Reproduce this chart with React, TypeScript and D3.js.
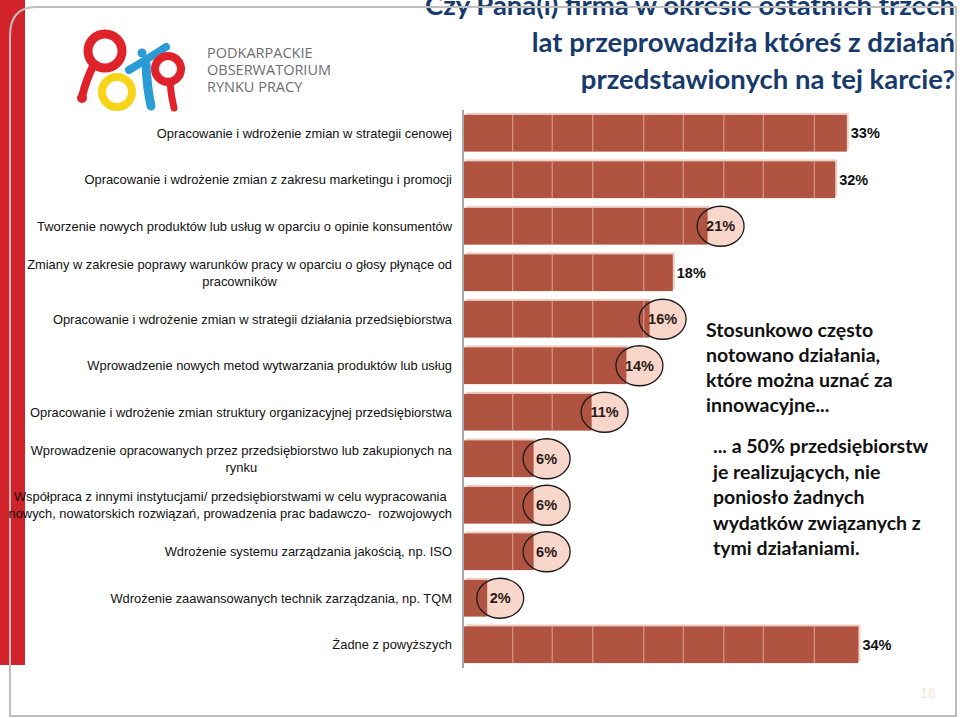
import { useEffect, useRef } from 'react';
import * as d3 from 'd3';

const categories = [
  ['Opracowanie i wdrożenie zmian w strategii cenowej'],
  ['Opracowanie i wdrożenie zmian z zakresu marketingu i promocji'],
  ['Tworzenie nowych produktów lub usług w oparciu o opinie konsumentów'],
  ['Zmiany w zakresie poprawy warunków pracy w oparciu o głosy płynące od', 'pracowników'],
  ['Opracowanie i wdrożenie zmian w strategii działania przedsiębiorstwa'],
  ['Wprowadzenie nowych metod wytwarzania produktów lub usług'],
  ['Opracowanie i wdrożenie zmian struktury organizacyjnej przedsiębiorstwa'],
  ['Wprowadzenie opracowanych przez przedsiębiorstwo lub zakupionych na', 'rynku'],
  ['Współpraca z innymi instytucjami/ przedsiębiorstwami w celu wypracowania', 'nowych, nowatorskich rozwiązań, prowadzenia prac badawczo-  rozwojowych'],
  ['Wdrożenie systemu zarządzania jakością, np. ISO'],
  ['Wdrożenie zaawansowanych technik zarządzania, np. TQM'],
  ['Żadne z powyższych'],
];
const values = [33, 32, 21, 18, 16, 14, 11, 6, 6, 6, 2, 34];
const circled = [false, false, true, false, true, true, true, true, true, true, true, false];
const gridValues = [4.2, 7.6, 11.1, 15.5, 18.9, 22.4, 25.8, 30.2];

const titleLines = [
  'Czy Pana(i) firma w okresie ostatnich trzech',
  'lat przeprowadziła któreś z działań',
  'przedstawionych na tej karcie?',
];
const noteTop = ['Stosunkowo często', 'notowano działania,', 'które można uznać za', 'innowacyjne...'];
const noteBottom = ['... a 50% przedsiębiorstw', 'je realizujących, nie', 'poniosło żadnych', 'wydatków związanych z', 'tymi działaniami.'];
const logoLines = ['PODKARPACKIE', 'OBSERWATORIUM', 'RYNKU PRACY'];
const pageNumber = '18';

const BAR = '#B05441';
const PALE = '#F9D6CA';

export default function App() {
  const svgRef = useRef<SVGSVGElement>(null);

  useEffect(() => {
    const svg = d3.select(svgRef.current);
    svg.selectAll('*').remove();

    const W = 960;
    const H = 718;

    svg.append('rect').attr('width', W).attr('height', H).attr('fill', '#fff');

    // red band on the left
    svg.append('rect').attr('x', 0).attr('y', 0).attr('width', 25).attr('height', 665).attr('fill', '#D2222A');

    // logo
    const logo = svg.append('g');
    logo.append('circle').attr('cx', 117).attr('cy', 92).attr('r', 15)
      .attr('fill', 'none').attr('stroke', '#F7D417').attr('stroke-width', 8);
    logo.append('circle').attr('cx', 105).attr('cy', 51).attr('r', 17)
      .attr('fill', 'none').attr('stroke', '#E0232B').attr('stroke-width', 9);
    logo.append('path').attr('d', 'M94,64 Q86,80 82,97')
      .attr('fill', 'none').attr('stroke', '#E0232B').attr('stroke-width', 8).attr('stroke-linecap', 'round');
    logo.append('circle').attr('cx', 82).attr('cy', 98).attr('r', 5).attr('fill', '#E0232B');
    logo.append('circle').attr('cx', 142).attr('cy', 53).attr('r', 4.5).attr('fill', '#2A9BD5');
    logo.append('path').attr('d', 'M129,70 Q146,60 166,47')
      .attr('fill', 'none').attr('stroke', '#2A9BD5').attr('stroke-width', 8).attr('stroke-linecap', 'round');
    logo.append('path').attr('d', 'M146,64 Q147,88 151,106')
      .attr('fill', 'none').attr('stroke', '#2A9BD5').attr('stroke-width', 9).attr('stroke-linecap', 'round');
    logo.append('circle').attr('cx', 168).attr('cy', 69).attr('r', 13)
      .attr('fill', 'none').attr('stroke', '#E0232B').attr('stroke-width', 8);
    logo.append('path').attr('d', 'M170,82 Q171,96 174,108')
      .attr('fill', 'none').attr('stroke', '#E0232B').attr('stroke-width', 7).attr('stroke-linecap', 'round');

    logo.selectAll('text.logo')
      .data(logoLines)
      .join('text')
      .attr('class', 'logo')
      .attr('x', 207)
      .attr('y', (d, i) => 58 + i * 17)
      .attr('font-family', '"Open Sans", sans-serif')
      .attr('font-size', '14.5px')
      .attr('fill', '#6D6E71')
      .text(d => d);

    // title
    svg.selectAll('text.title')
      .data(titleLines)
      .join('text')
      .attr('class', 'title')
      .attr('x', 955)
      .attr('y', (d, i) => 15 + i * 37)
      .attr('text-anchor', 'end')
      .attr('font-family', 'Lato, sans-serif')
      .attr('font-weight', 'bold')
      .attr('font-size', '27.5px')
      .attr('fill', '#173A6C')
      .text(d => d);

    // slide frame
    svg.append('path')
      .attr('d', 'M10,716 L10,36 Q10,7 36,7 L956,7 L956,716 Z')
      .attr('fill', 'none')
      .attr('stroke', '#BDBDBD')
      .attr('stroke-width', 2);

    // chart
    const idx = values.map((d, i) => i);
    const x = d3.scaleLinear().domain([0, 34]).range([464, 464 + 34 * 11.6]);
    const y = d3.scaleBand<number>().domain(idx).range([110, 668]).paddingInner(0.21).paddingOuter(0.105);
    const bw = y.bandwidth();

    const g = svg.append('g');

    // pale shadow behind bars
    g.selectAll('rect.shadow')
      .data(idx)
      .join('rect')
      .attr('class', 'shadow')
      .attr('x', x(0) + 2)
      .attr('y', i => (y(i) as number) - 2)
      .attr('width', i => x(values[i]) - x(0))
      .attr('height', bw)
      .attr('fill', '#EDCFC6');

    // ellipse fills under the bars
    const circ = idx.filter(i => circled[i]);
    g.selectAll('ellipse.fill')
      .data(circ)
      .join('ellipse')
      .attr('class', 'fill')
      .attr('cx', i => x(values[i]) + 13)
      .attr('cy', i => (y(i) as number) + bw / 2)
      .attr('rx', 23.5)
      .attr('ry', 20)
      .attr('fill', PALE);

    g.selectAll('rect.bar')
      .data(idx)
      .join('rect')
      .attr('class', 'bar')
      .attr('x', x(0))
      .attr('y', i => y(i) as number)
      .attr('width', i => x(values[i]) - x(0))
      .attr('height', bw)
      .attr('fill', BAR);

    // light grid lines inside the bars
    idx.forEach(i => {
      g.selectAll(null)
        .data(gridValues.filter(v => v < values[i]))
        .join('line')
        .attr('x1', v => x(v))
        .attr('x2', v => x(v))
        .attr('y1', y(i) as number)
        .attr('y2', (y(i) as number) + bw)
        .attr('stroke', '#DDA596')
        .attr('stroke-width', 1);
    });

    // axis line
    g.append('line')
      .attr('x1', 463).attr('x2', 463)
      .attr('y1', 110).attr('y2', 668)
      .attr('stroke', '#A6A6A6')
      .attr('stroke-width', 2);

    g.selectAll('ellipse.ring')
      .data(circ)
      .join('ellipse')
      .attr('class', 'ring')
      .attr('cx', i => x(values[i]) + 13)
      .attr('cy', i => (y(i) as number) + bw / 2)
      .attr('rx', 23.5)
      .attr('ry', 20)
      .attr('fill', 'none')
      .attr('stroke', '#1a1a1a')
      .attr('stroke-width', 1.3);

    // value labels
    g.selectAll('text.val')
      .data(idx)
      .join('text')
      .attr('class', 'val')
      .attr('x', i => (circled[i] ? x(values[i]) + 13 : x(values[i]) + 4))
      .attr('y', i => (y(i) as number) + bw / 2)
      .attr('dy', '0.36em')
      .attr('text-anchor', i => (circled[i] ? 'middle' : 'start'))
      .attr('font-family', '"Liberation Sans", Arial, sans-serif')
      .attr('font-weight', 'bold')
      .attr('font-size', '14.5px')
      .attr('fill', i => (circled[i] ? '#2b1a16' : '#111'))
      .text(i => `${values[i]}%`);

    // category labels
    const labelRight = 452;
    idx.forEach(i => {
      const lines = categories[i];
      const cy = (y(i) as number) + bw / 2;
      const t = g.append('text')
        .attr('xml:space', 'preserve')
        .style('white-space', 'pre')
        .attr('font-family', '"Liberation Sans", Arial, sans-serif')
        .attr('font-size', '12.9px')
        .attr('fill', '#111');
      if (lines.length === 1) {
        t.attr('x', labelRight).attr('y', cy).attr('dy', '0.35em').attr('text-anchor', 'end').text(lines[0]);
      } else {
        const spans = lines.map((l, k) => t.append('tspan')
          .attr('y', cy + (k - (lines.length - 1) / 2) * 17)
          .attr('dy', '0.35em')
          .text(l));
        const widest = d3.max(spans, s => (s.node() as SVGTSpanElement).getComputedTextLength()) || 0;
        t.attr('text-anchor', 'middle');
        spans.forEach(s => s.attr('x', labelRight - widest / 2));
      }
    });

    // side notes
    svg.selectAll('text.noteTop')
      .data(noteTop)
      .join('text')
      .attr('class', 'noteTop')
      .attr('x', 706)
      .attr('y', (d, i) => 337 + i * 25)
      .attr('font-family', 'Lato, sans-serif')
      .attr('font-weight', 'bold')
      .attr('font-size', '19.5px')
      .attr('fill', '#111')
      .text(d => d);

    svg.selectAll('text.noteBottom')
      .data(noteBottom)
      .join('text')
      .attr('class', 'noteBottom')
      .attr('x', 713)
      .attr('y', (d, i) => 453 + i * 25.5)
      .attr('font-family', 'Lato, sans-serif')
      .attr('font-weight', 'bold')
      .attr('font-size', '19.5px')
      .attr('fill', '#111')
      .text(d => d);

    svg.append('text')
      .attr('x', 928)
      .attr('y', 698)
      .attr('text-anchor', 'middle')
      .attr('font-family', 'Lato, sans-serif')
      .attr('font-size', '13px')
      .attr('fill', '#F1E6D2')
      .text(pageNumber);
  }, []);

  return (
    <svg
      ref={svgRef}
      width="960"
      height="718"
      style={{ position: 'absolute', left: 0, top: 0, display: 'block' }}
    ></svg>
  );
}
